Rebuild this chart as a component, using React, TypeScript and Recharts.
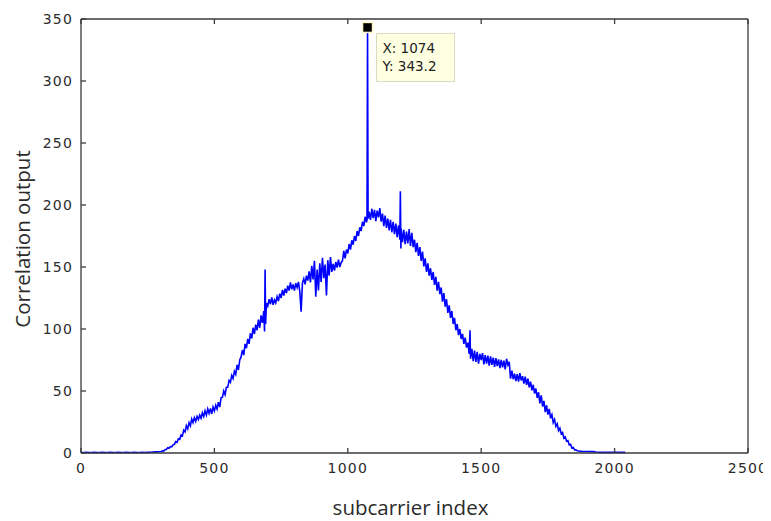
import React from 'react';
import { LineChart, Line, XAxis, YAxis, ReferenceDot, Label } from 'recharts';

// subcarrier index (x) and correlation output (y)
const SUBCARRIER_INDEX = [
  0, 10, 20, 30, 40, 50, 60, 70, 80, 90,
  100, 110, 120, 130, 140, 150, 160, 170, 180, 190,
  200, 210, 220, 230, 240, 250, 260, 270, 280, 290,
  300, 305, 310, 315, 320, 325, 330, 335, 340, 345,
  350, 355, 360, 365, 370, 375, 380, 385, 390, 395,
  400, 405, 410, 415, 420, 425, 430, 435, 440, 445,
  450, 455, 460, 465, 470, 475, 480, 485, 490, 495,
  500, 505, 510, 515, 520, 525, 530, 535, 540, 545,
  550, 555, 560, 565, 570, 575, 580, 585, 590, 595,
  600, 605, 610, 615, 620, 625, 630, 635, 640, 645,
  650, 655, 660, 665, 670, 675, 680, 685, 688, 690, 692, 695,
  700, 705, 710, 715, 720, 725, 730, 735, 740, 745,
  750, 755, 760, 765, 770, 775, 780, 785, 790, 795,
  800, 805, 810, 815, 820, 825, 830, 835, 840, 845,
  850, 855, 860, 865, 870, 875, 880, 885, 890, 895,
  900, 905, 910, 915, 920, 925, 930, 935, 940, 945,
  950, 955, 960, 965, 970, 975, 980, 985, 990, 995,
  1000, 1005, 1010, 1015, 1020, 1025, 1030, 1035, 1040, 1045,
  1050, 1055, 1060, 1065, 1070, 1072, 1074, 1076,
  1080, 1085, 1090, 1095, 1100, 1105, 1110, 1115, 1120, 1125,
  1130, 1135, 1140, 1145, 1150, 1155, 1160, 1165, 1170, 1175,
  1180, 1185, 1190, 1195, 1197, 1199,
  1200, 1205, 1210, 1215, 1220, 1225, 1230, 1235, 1240, 1245,
  1250, 1255, 1260, 1265, 1270, 1275, 1280, 1285, 1290, 1295,
  1300, 1305, 1310, 1315, 1320, 1325, 1330, 1335, 1340, 1345,
  1350, 1355, 1360, 1365, 1370, 1375, 1380, 1385, 1390, 1395,
  1400, 1405, 1410, 1415, 1420, 1425, 1430, 1435, 1440, 1445,
  1450, 1455, 1458, 1460, 1465, 1470, 1475, 1480, 1485, 1490, 1495,
  1500, 1505, 1510, 1515, 1520, 1525, 1530, 1535, 1540, 1545,
  1550, 1555, 1560, 1565, 1570, 1575, 1580, 1585, 1590, 1595,
  1600, 1605, 1610, 1615, 1620, 1625, 1630, 1635, 1640, 1645,
  1650, 1655, 1660, 1665, 1670, 1675, 1680, 1685, 1690, 1695,
  1700, 1705, 1710, 1715, 1720, 1725, 1730, 1735, 1740, 1745,
  1750, 1755, 1760, 1765, 1770, 1775, 1780, 1785, 1790, 1795,
  1800, 1805, 1810, 1815, 1820, 1825, 1830, 1835, 1840, 1845,
  1850, 1855, 1860, 1865, 1870, 1875, 1880, 1885, 1890, 1895,
  1900, 1910, 1920, 1930, 1940, 1950, 1960, 1970, 1980, 1990,
  2000, 2010, 2020, 2030, 2040,
];

const CORRELATION = [
  0.4, 0.4, 0.5, 0.4, 0.4, 0.5, 0.4, 0.4, 0.5, 0.4,
  0.4, 0.5, 0.4, 0.4, 0.5, 0.4, 0.4, 0.5, 0.4, 0.4,
  0.5, 0.4, 0.4, 0.5, 0.4, 0.5, 0.6, 0.8, 0.9, 1.0,
  1.0, 1.8, 1.5, 2.6, 3.0, 4.2, 3.8, 5.2, 5.0, 6.6,
  7.0, 9.2, 8.6, 11.5, 11.0, 14.5, 13.8, 18.5, 17.0, 22.0,
  19.5, 24.5, 22.0, 27.5, 24.5, 28.5, 25.5, 29.5, 27.0, 30.5,
  28.0, 32.5, 29.5, 34.0, 30.5, 35.5, 32.0, 36.0, 31.5, 37.0,
  34.0, 38.5, 35.5, 41.0, 37.0, 44.5, 45.0, 50.0, 47.0, 53.0,
  53.0, 58.5, 57.0, 62.5, 60.0, 66.0, 63.5, 71.0, 67.0, 75.0,
  77.5, 83.0, 79.0, 88.0, 84.5, 92.0, 88.0, 96.5, 92.5, 101.0,
  96.0, 103.5, 99.0, 107.5, 101.0, 111.0, 105.0, 114.5, 98.0, 148.0, 104.0, 121.0,
  118.5, 124.0, 120.0, 125.5, 119.5, 123.5, 121.0, 126.0, 122.5, 128.5,
  125.0, 131.5, 127.0, 132.5, 129.0, 135.0, 131.0, 137.5, 132.0, 136.0,
  131.0, 137.0, 133.5, 138.0, 130.5, 114.0, 137.0, 140.5, 136.0, 143.0,
  139.0, 146.5, 137.5, 151.0, 140.0, 155.0, 126.0, 148.0, 131.0, 153.0,
  138.0, 157.5, 141.0, 152.0, 127.0, 155.5, 143.0, 158.0, 146.0, 152.5,
  147.0, 154.0, 149.5, 156.0, 150.0, 153.5, 155.0, 163.0, 157.0, 164.0,
  161.0, 168.5, 164.0, 171.5, 168.0, 175.0, 171.0, 179.0, 175.0, 182.0,
  179.0, 186.5, 183.0, 190.5, 186.0, 188.0, 343.2, 189.0,
  194.5, 188.0, 197.0, 189.5, 196.0, 187.0, 195.5, 190.0, 197.5, 186.5,
  193.0, 183.0, 191.5, 181.5, 189.0, 179.5, 188.0, 178.0, 186.5, 176.5,
  185.0, 174.0, 183.5, 172.0, 211.0, 165.0,
  181.0, 170.0, 180.0, 168.5, 178.5, 169.0, 180.5, 167.0, 177.5, 166.0,
  172.0, 162.0, 169.5, 159.0, 166.0, 155.0, 162.5, 150.5, 157.0, 146.0,
  153.0, 143.0, 149.0, 139.5, 146.0, 135.5, 142.0, 131.0, 138.0, 128.0,
  133.5, 122.0, 129.0, 118.0, 124.0, 113.0, 119.0, 109.0, 114.5, 104.0,
  109.0, 99.0, 104.0, 95.0, 100.0, 92.0, 96.0, 88.0, 93.0, 85.0,
  89.0, 80.0, 99.0, 76.0, 84.0, 74.0, 82.5, 73.5, 81.5, 72.0, 80.0,
  75.0, 80.5, 71.5, 79.0, 72.0, 78.5, 70.5, 78.0, 71.0, 77.0,
  69.5, 76.5, 70.0, 75.5, 68.5, 75.0, 69.0, 74.5, 67.5, 76.0,
  71.0, 73.5, 60.0, 66.5, 59.5, 64.0, 58.0, 63.5, 57.5, 64.5,
  58.5, 62.0, 56.0, 61.5, 55.0, 60.0, 53.0, 57.5, 50.5, 55.0,
  48.0, 52.0, 44.5, 49.0, 40.0, 46.5, 37.5, 42.0, 33.0, 38.5,
  31.0, 35.5, 28.0, 31.0, 24.5, 27.0, 21.5, 23.5, 18.0, 20.0,
  15.5, 16.5, 12.0, 13.0, 9.5, 10.0, 6.5, 7.0, 4.0, 4.5,
  2.5, 2.6, 1.8, 1.6, 1.4, 1.3, 1.2, 1.2, 1.2, 1.2,
  1.2, 1.1, 1.1, 0.8, 0.6, 0.5, 0.5, 0.5, 0.5, 0.5,
  0.5, 0.5, 0.5, 0.5, 0.5,
];

const X_TICKS = [0, 500, 1000, 1500, 2000, 2500];
const Y_TICKS = [0, 50, 100, 150, 200, 250, 300, 350];
const PEAK_X = 1074;
const PEAK_Y = 343.2;
const X_LABEL = 'subcarrier index';
const Y_LABEL = 'Correlation output';

const data = SUBCARRIER_INDEX.map((x, i) => ({ x, y: CORRELATION[i] }));

const AXIS_COLOR = '#3a3a3a';
const TEXT_COLOR = '#2b2b2b';
const TICK_LEN = 5;
const TICK_FONT = { fontFamily: 'DejaVu Sans', fontSize: 14, fill: TEXT_COLOR, letterSpacing: 1.2 };
const LABEL_FONT = { fontFamily: 'Open Sans', fontSize: 20.5, fill: TEXT_COLOR };

// bottom: y = plot bottom + tickMargin(20)
const BottomTick = (props: any) => {
  const { x, y, payload } = props;
  return (
    <g>
      <line x1={x} x2={x} y1={y - 20} y2={y - 20 - TICK_LEN} stroke={AXIS_COLOR} strokeWidth={1.3} />
      <text x={x} y={y} textAnchor="middle" {...TICK_FONT}>
        {payload.value}
      </text>
    </g>
  );
};

// left: x = plot left - tickMargin(8)
const LeftTick = (props: any) => {
  const { x, y, payload } = props;
  return (
    <g>
      <line x1={x + 8} x2={x + 8 + TICK_LEN} y1={y} y2={y} stroke={AXIS_COLOR} strokeWidth={1.3} />
      <text x={x} y={y + 5} textAnchor="end" {...TICK_FONT}>
        {payload.value}
      </text>
    </g>
  );
};

// top: y = plot top
const TopTick = (props: any) => {
  const { x, y } = props;
  return <line x1={x} x2={x} y1={y} y2={y + TICK_LEN} stroke={AXIS_COLOR} strokeWidth={1.3} />;
};

// right: x = plot right
const RightTick = (props: any) => {
  const { x, y } = props;
  return <line x1={x} x2={x - TICK_LEN} y1={y} y2={y} stroke={AXIS_COLOR} strokeWidth={1.3} />;
};

const DataTip = (props: any) => {
  const { cx, cy } = props;
  return (
    <g>
      <rect x={cx + 9} y={cy + 6} width={78} height={48} fill="#ffffe1" stroke="#d9d9c4" strokeWidth={1} />
      <text x={cx + 15} y={cy + 26} fontFamily="DejaVu Sans" fontSize={13.5} fill="#222">
        {`X: ${PEAK_X}`}
      </text>
      <text x={cx + 15} y={cy + 44} fontFamily="DejaVu Sans" fontSize={13.5} fill="#222">
        {`Y: ${PEAK_Y}`}
      </text>
      <rect x={cx - 5} y={cy - 5} width={10} height={10} fill="#000" stroke="#fff6c8" strokeWidth={1.5} />
    </g>
  );
};

const axisLineStyle = { stroke: AXIS_COLOR, strokeWidth: 1.3 };

export default function App() {
  return (
    <LineChart
      width={763}
      height={513}
      data={data}
      margin={{ top: 10, right: 22, bottom: 8, left: 23 }}
    >
      <XAxis
        xAxisId="bottom"
        dataKey="x"
        type="number"
        domain={[0, 2500]}
        ticks={X_TICKS}
        orientation="bottom"
        height={60}
        tickSize={0}
        tickMargin={20}
        axisLine={axisLineStyle}
        tickLine={false}
        tick={<BottomTick />}
        interval={0}
      >
        <Label
          content={(p: any) => {
            const vb = p.viewBox || { x: 73, y: 445, width: 667, height: 60 };
            return (
              <text x={vb.x + vb.width / 2 - 4} y={vb.y + 61.5} textAnchor="middle" {...LABEL_FONT}>
                {X_LABEL}
              </text>
            );
          }}
        />
      </XAxis>
      <XAxis
        xAxisId="top"
        dataKey="x"
        type="number"
        domain={[0, 2500]}
        ticks={X_TICKS}
        orientation="top"
        height={1}
        tickSize={0}
        tickMargin={0}
        axisLine={axisLineStyle}
        tickLine={false}
        tick={<TopTick />}
        interval={0}
      />
      <YAxis
        yAxisId="left"
        type="number"
        domain={[0, 350]}
        ticks={Y_TICKS}
        orientation="left"
        width={50}
        tickSize={0}
        tickMargin={8}
        axisLine={axisLineStyle}
        tickLine={false}
        tick={<LeftTick />}
        interval={0}
      >
        <Label
          content={(p: any) => {
            const vb = p.viewBox || { x: 23, y: 11, width: 50, height: 434 };
            const cx = vb.x - 1.5;
            const cy = vb.y + vb.height / 2 + 3;
            return (
              <text x={cx} y={cy} textAnchor="middle" transform={`rotate(-90 ${cx} ${cy})`} {...LABEL_FONT}>
                {Y_LABEL}
              </text>
            );
          }}
        />
      </YAxis>
      <YAxis
        yAxisId="right"
        type="number"
        domain={[0, 350]}
        ticks={Y_TICKS}
        orientation="right"
        width={1}
        tickSize={0}
        tickMargin={0}
        axisLine={axisLineStyle}
        tickLine={false}
        tick={<RightTick />}
        interval={0}
      />
      <Line
        xAxisId="bottom"
        yAxisId="left"
        type="linear"
        dataKey="y"
        stroke="#0000ff"
        strokeWidth={1.6}
        dot={false}
        activeDot={false}
        isAnimationActive={false}
      />
      <ReferenceDot
        xAxisId="bottom"
        yAxisId="left"
        x={PEAK_X}
        y={PEAK_Y}
        r={5}
        shape={<DataTip />}
      />
    </LineChart>
  );
}
